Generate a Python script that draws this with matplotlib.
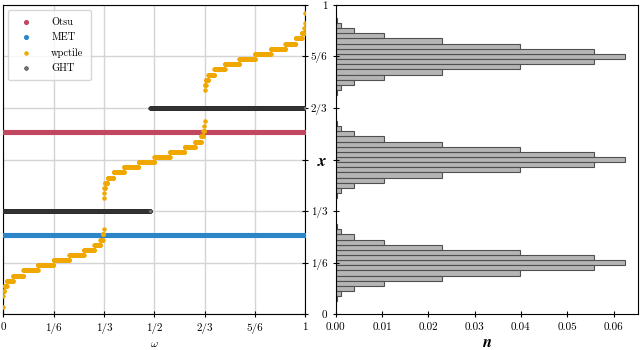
import numpy as np
import matplotlib
matplotlib.use("Agg")
import matplotlib.pyplot as plt

plt.rcParams['font.family'] = 'cmr10'
plt.rcParams['mathtext.fontset'] = 'cm'
plt.rcParams['axes.formatter.use_mathtext'] = True

# --- data ---
bump_centers = [1/6, 1/2, 5/6]
# wpercentile staircase: levels either side of each bump centre (in 1/60 units) and their weight
wp_offsets = [0.5, 1.5, 2.5, 3.5, 4.5, 5.5, 6.5, 7.5, 8.5]
wp_weights = [0.052, 0.048, 0.035, 0.020, 0.008, 0.0025, 0.0008, 0.0003, 0.0001]
# histogram: bin offsets from bump centre (1/60 units) and density
hist_offsets = [0, 1, 2, 3, 4, 5, 6, 7, 8]
hist_n = [0.0625, 0.0558, 0.0399, 0.0229, 0.0105, 0.0039, 0.0011, 0.0003, 0.0001]
bin_width = 1 / 60

otsu_thr = 0.590
met_thr = 0.255
ght_low, ght_high, ght_switch = 1/3, 2/3, 0.487

tick_vals = [0, 1/6, 1/3, 1/2, 2/3, 5/6, 1]
x_tick_labels = ['0', '1/6', '1/3', '1/2', '2/3', '5/6', '1']
y_tick_labels = ['0', '1/6', '1/3', r'$\boldsymbol{x}$', '2/3', '5/6', '1']

c_otsu = '#c0475f'
c_met = '#2b86c9'
c_wp = '#f0a800'
c_ght = '#3a3a3a'

# build staircase (weighted percentile) from levels/weights
levels, weights = [], []
for c in bump_centers:
    for o, w in zip(wp_offsets, wp_weights):
        levels += [c - o / 60, c + o / 60]
        weights += [w, w]
levels = np.array(levels)
weights = np.array(weights)
order = np.argsort(levels)
levels, weights = levels[order], weights[order]
cum = np.cumsum(weights)

omega = np.linspace(0, 1, 1200)
idx = np.clip(np.searchsorted(cum, omega * cum[-1], side='left'), 0, len(levels) - 1)
wp = levels[idx]
ght = np.where(omega < ght_switch, ght_low, ght_high)

fig = plt.figure(figsize=(6.4, 3.5), dpi=100)
ax1 = fig.add_axes([0.005, 0.102, 0.472, 0.884])
ax2 = fig.add_axes([0.5245, 0.102, 0.4725, 0.884])

ax1.scatter(omega, np.full_like(omega, otsu_thr), s=7, color=c_otsu, label='Otsu', zorder=3)
ax1.scatter(omega, np.full_like(omega, met_thr), s=7, color=c_met, label='MET', zorder=3)
ax1.scatter(omega, wp, s=5, color=c_wp, label='wpctile', zorder=4)
ax1.scatter(omega, ght, s=7, edgecolors='#222222', linewidths=0.4,
            facecolors='#777777', label='GHT', zorder=5)

ax1.set_xlim(0, 1)
ax1.set_ylim(0, 1)
ax1.set_xticks(tick_vals)
ax1.set_xticklabels(x_tick_labels, fontsize=8)
ax1.set_yticks(tick_vals)
ax1.yaxis.tick_right()
ax1.tick_params(axis='y', labelright=False, direction='inout', length=5)
ax1.tick_params(axis='x', direction='inout', length=5)
ax1.grid(True, color='#d4d4d4', linewidth=1.0)
ax1.set_axisbelow(True)
ax1.set_xlabel(r'$\omega$', fontsize=8, labelpad=4)
leg = ax1.legend(loc='upper left', fontsize=7.5, markerscale=1.0, frameon=True,
                 handletextpad=1.4, borderpad=0.7, labelspacing=0.55)
leg.get_frame().set_edgecolor('#cccccc')

# histogram
for c in bump_centers:
    for o, n in zip(hist_offsets, hist_n):
        for sgn in ([1] if o == 0 else [-1, 1]):
            ax2.barh(c + sgn * o * bin_width, n, height=bin_width,
                     color='#b5b5b5', edgecolor='#505050', linewidth=0.8)

ax2.set_ylim(0, 1)
ax2.set_xlim(0, 0.0653)
ax2.set_yticks(tick_vals)
ax2.set_yticklabels(y_tick_labels, fontsize=8)
ax2.tick_params(axis='both', direction='inout', length=5, labelsize=8)
ax2.yaxis.get_major_ticks()[3].label1.set_fontsize(12)
ax2.set_xticks([0, 0.01, 0.02, 0.03, 0.04, 0.05, 0.06])
ax2.set_xticklabels(['0.00', '0.01', '0.02', '0.03', '0.04', '0.05', '0.06'])
ax2.set_xlabel(r'$\boldsymbol{n}$', fontsize=12, labelpad=2)

fig.savefig('out.png', dpi=100)
